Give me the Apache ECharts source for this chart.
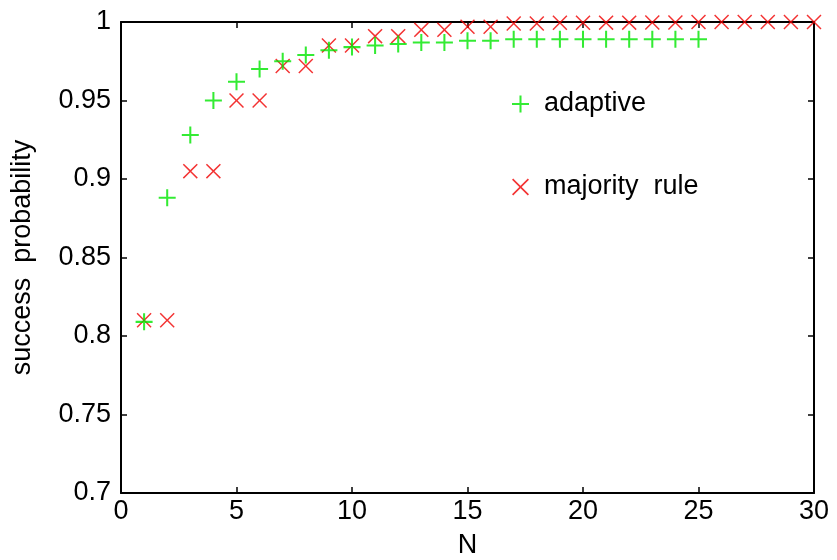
<!DOCTYPE html>
<html>
<head>
<meta charset="utf-8">
<script src="https://cdn.jsdelivr.net/npm/echarts@6/dist/echarts.min.js"></script>
<style>
  html, body { margin: 0; padding: 0; background: #fff; }
  #chart { width: 837px; height: 560px; }
</style>
</head>
<body>
<div id="chart"></div>
<script>
// values
const nValues = [1, 2, 3, 4, 5, 6, 7, 8, 9, 10, 11, 12, 13, 14, 15,
  16, 17, 18, 19, 20, 21, 22, 23, 24, 25, 26, 27, 28, 29, 30];
const adaptive = [0.809, 0.888, 0.928, 0.950, 0.962, 0.970, 0.975, 0.979, 0.982, 0.984,
  0.985, 0.986, 0.987, 0.987, 0.988, 0.988, 0.989, 0.989, 0.989, 0.989,
  0.989, 0.989, 0.989, 0.989, 0.989];
const majority = [0.810, 0.810, 0.905, 0.905, 0.950, 0.950, 0.972, 0.972, 0.985, 0.985,
  0.991, 0.991, 0.995, 0.995, 0.997, 0.997, 0.999, 0.999, 0.9995, 0.9995,
  0.9996, 0.9996, 0.9997, 0.9997, 1.0, 1.0, 1.0, 1.0, 1.0, 1.0];
const xTicks = [0, 5, 10, 15, 20, 25, 30];
const yTicks = [0.7, 0.75, 0.8, 0.85, 0.9, 0.95, 1];

const plusPath = "path://M0.44,0 H0.56 V0.44 H1 V0.56 H0.56 V1 H0.44 V0.56 H0 V0.44 H0.44 Z";
const crossPath = "path://M0,0.07 L0.07,0 L0.5,0.43 L0.93,0 L1,0.07 L0.57,0.5 L1,0.93 L0.93,1 L0.5,0.57 L0.07,1 L0,0.93 L0.43,0.5 Z";

function pairs(ys) {
  return ys.map((y, i) => [nValues[i], y]);
}

const font = "'Liberation Sans', Arial, sans-serif";

let chart = echarts.init(document.getElementById("chart"), null, { renderer: "canvas" });

const axisLine = { show: true, onZero: false, lineStyle: { color: "#000", width: 2 } };
const tickIn = { show: true, inside: true, length: 6, lineStyle: { color: "#000", width: 1.5 } };

let option = {
  animation: false,
  backgroundColor: "#fff",
  grid: { left: 121, right: 23, top: 22, bottom: 67, containLabel: false, outerBoundsMode: "none" },
  legend: {
    orient: "vertical",
    left: 507,
    top: 84,
    itemGap: 53,
    itemWidth: 17,
    itemHeight: 17,
    textStyle: { fontFamily: font, fontSize: 27, lineHeight: 30, color: "#000", padding: [0, 0, 0, 10] },
    data: [
      { name: "adaptive", icon: plusPath },
      { name: "majority  rule", icon: crossPath }
    ]
  },
  xAxis: [
    {
      type: "value", min: 0, max: 30, interval: 5,
      name: "N", nameLocation: "middle", nameGap: 39,
      nameTextStyle: { fontFamily: font, fontSize: 27, color: "#000" },
      axisLine: axisLine, axisTick: tickIn,
      axisLabel: { fontFamily: font, fontSize: 27, color: "#000", margin: 5,
        formatter: v => xTicks.includes(v) ? String(v) : "" },
      splitLine: { show: false }
    },
    {
      type: "value", min: 0, max: 30, interval: 5, position: "top",
      axisLine: axisLine, axisTick: tickIn, axisLabel: { show: false }, splitLine: { show: false }
    }
  ],
  yAxis: [
    {
      type: "value", min: 0.7, max: 1, interval: 0.05,
      name: "success  probability", nameLocation: "middle", nameGap: 85,
      nameTextStyle: { fontFamily: font, fontSize: 27, color: "#000" },
      axisLine: axisLine, axisTick: tickIn,
      axisLabel: { fontFamily: font, fontSize: 27, color: "#000", margin: 10,
        formatter: v => {
          const t = yTicks.find(y => Math.abs(y - v) < 1e-9);
          return t === undefined ? "" : String(t);
        } },
      splitLine: { show: false }
    },
    {
      type: "value", min: 0.7, max: 1, interval: 0.05, position: "right",
      axisLine: axisLine, axisTick: tickIn, axisLabel: { show: false }, splitLine: { show: false }
    }
  ],
  series: [
    {
      name: "adaptive", type: "scatter", symbol: plusPath, symbolSize: 17,
      itemStyle: { color: "#00e600" },
      data: pairs(adaptive), z: 3
    },
    {
      name: "majority  rule", type: "scatter", symbol: crossPath, symbolSize: 15,
      itemStyle: { color: "#f00000" },
      data: pairs(majority), z: 2
    },
    {
      // empty series so the mirrored top/right axes get drawn
      name: "frame", type: "scatter", xAxisIndex: 1, yAxisIndex: 1, data: [], silent: true
    }
  ]
};

chart.setOption(option);
</script>
</body>
</html>
